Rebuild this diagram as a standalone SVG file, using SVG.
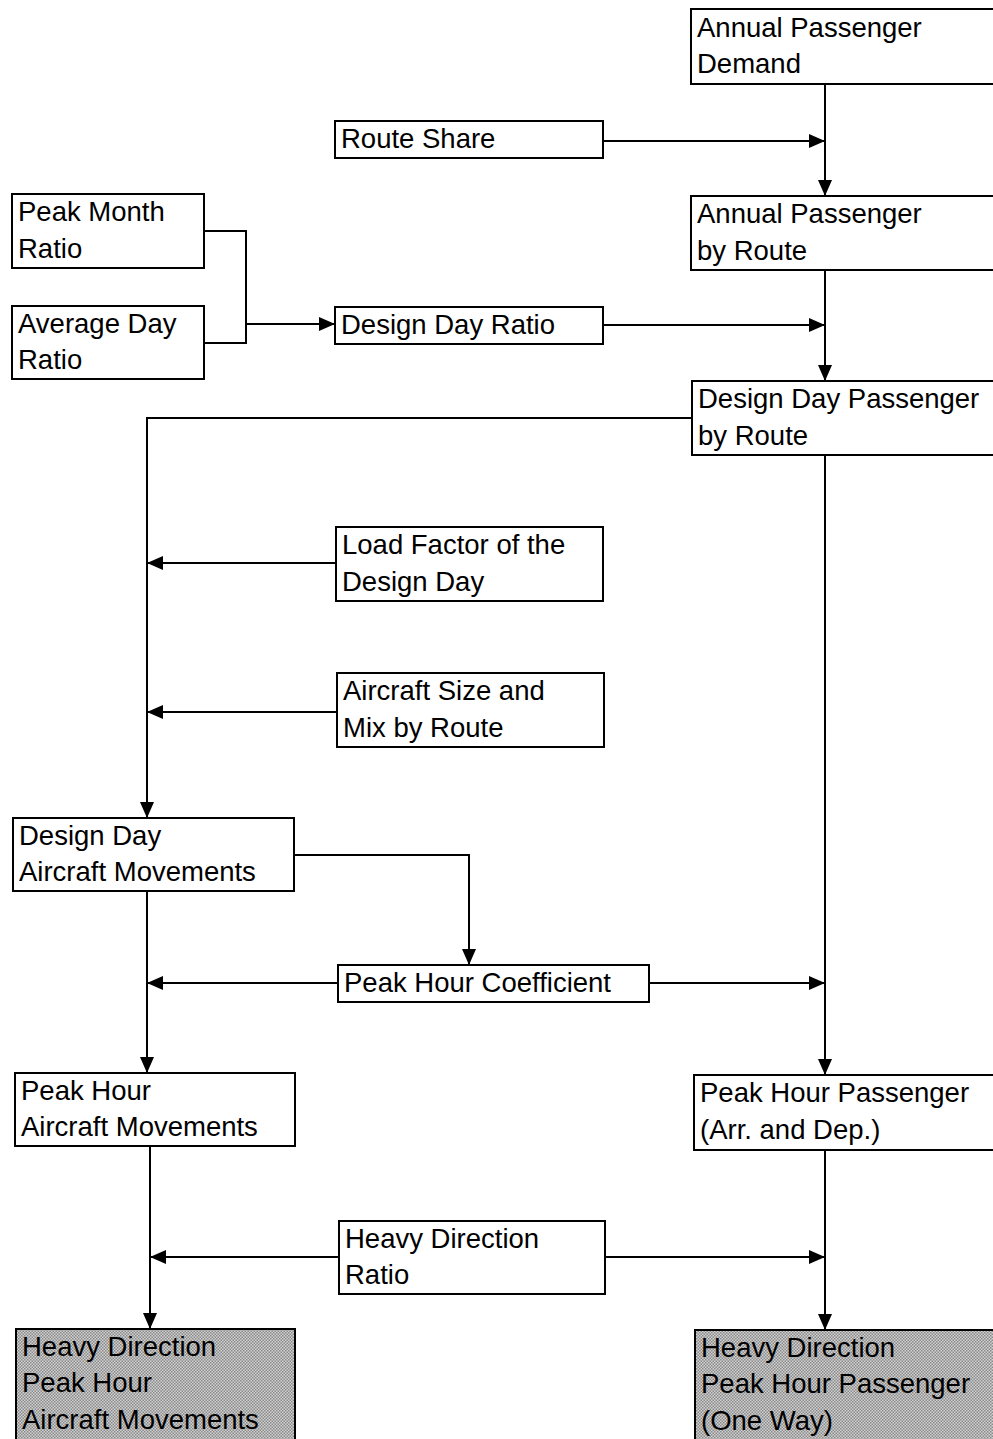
<svg xmlns="http://www.w3.org/2000/svg" width="993" height="1439" viewBox="0 0 993 1439">
<style>
.box{fill:#fff;stroke:#000;stroke-width:2}
.shade{fill:url(#dither);stroke:#000;stroke-width:2}
.t{font-family:"Liberation Sans",Arial,sans-serif;font-size:27.5px;fill:#000}
.c{fill:none;stroke:#000;stroke-width:2}
.a{fill:none;stroke:#000;stroke-width:2;marker-end:url(#ah)}
</style>
<defs>
<marker id="ah" markerUnits="userSpaceOnUse" markerWidth="16" markerHeight="16" viewBox="0 0 16 16" refX="16" refY="8" orient="auto">
<path d="M0,1 L16,8 L0,15 z" fill="#000"/>
</marker>
<pattern id="dither" width="3" height="3" patternUnits="userSpaceOnUse">
<rect width="3" height="3" fill="#d0d0d0"/>
<rect width="1.5" height="1.5" fill="#8a8a8a"/>
<rect x="1.5" y="1.5" width="1.5" height="1.5" fill="#8a8a8a"/>
</pattern>
</defs>
<rect width="993" height="1439" fill="#fff"/>

<g id="connectors">
<line class="a" x1="825" y1="84" x2="825" y2="196"/>
<line class="a" x1="603" y1="141" x2="825" y2="141"/>
<polyline class="c" points="204,231 246,231 246,343 204,343"/>
<line class="a" x1="246" y1="324" x2="335" y2="324"/>
<line class="a" x1="603" y1="325" x2="825" y2="325"/>
<line class="a" x1="825" y1="270" x2="825" y2="381"/>
<polyline class="a" points="692,418 147,418 147,818"/>
<line class="a" x1="336" y1="563" x2="147" y2="563"/>
<line class="a" x1="337" y1="712" x2="147" y2="712"/>
<polyline class="a" points="294,855 469,855 469,965"/>
<line class="a" x1="338" y1="983" x2="147" y2="983"/>
<line class="a" x1="649" y1="983" x2="825" y2="983"/>
<line class="a" x1="147" y1="891" x2="147" y2="1073"/>
<line class="a" x1="825" y1="455" x2="825" y2="1075"/>
<line class="a" x1="339" y1="1257" x2="150" y2="1257"/>
<line class="a" x1="605" y1="1257" x2="825" y2="1257"/>
<line class="a" x1="150" y1="1146" x2="150" y2="1329"/>
<line class="a" x1="825" y1="1150" x2="825" y2="1330"/>
</g>

<g id="annual-passenger-demand">
<rect class="box" x="691" y="9" width="320" height="75"/>
<text class="t" x="697" y="37">Annual Passenger</text>
<text class="t" x="697" y="73">Demand</text>
</g>
<g id="route-share">
<rect class="box" x="335" y="121" width="268" height="37"/>
<text class="t" x="341" y="148">Route Share</text>
</g>
<g id="annual-passenger-by-route">
<rect class="box" x="691" y="196" width="320" height="74"/>
<text class="t" x="697" y="223">Annual Passenger</text>
<text class="t" x="697" y="260">by Route</text>
</g>
<g id="peak-month-ratio">
<rect class="box" x="12" y="194" width="192" height="74"/>
<text class="t" x="18" y="221">Peak Month</text>
<text class="t" x="18" y="258">Ratio</text>
</g>
<g id="average-day-ratio">
<rect class="box" x="12" y="306" width="192" height="73"/>
<text class="t" x="18" y="333">Average Day</text>
<text class="t" x="18" y="369">Ratio</text>
</g>
<g id="design-day-ratio">
<rect class="box" x="335" y="307" width="268" height="37"/>
<text class="t" x="341" y="334">Design Day Ratio</text>
</g>
<g id="design-day-passenger-by-route">
<rect class="box" x="692" y="381" width="320" height="74"/>
<text class="t" x="698" y="408">Design Day Passenger</text>
<text class="t" x="698" y="445">by Route</text>
</g>
<g id="load-factor">
<rect class="box" x="336" y="527" width="267" height="74"/>
<text class="t" x="342" y="554">Load Factor of the</text>
<text class="t" x="342" y="591">Design Day</text>
</g>
<g id="aircraft-size-mix">
<rect class="box" x="337" y="673" width="267" height="74"/>
<text class="t" x="343" y="700">Aircraft Size and</text>
<text class="t" x="343" y="737">Mix by Route</text>
</g>
<g id="design-day-aircraft-movements">
<rect class="box" x="13" y="818" width="281" height="73"/>
<text class="t" x="19" y="845">Design Day</text>
<text class="t" x="19" y="881">Aircraft Movements</text>
</g>
<g id="peak-hour-coefficient">
<rect class="box" x="338" y="965" width="311" height="37"/>
<text class="t" x="344" y="992">Peak Hour Coefficient</text>
</g>
<g id="peak-hour-aircraft-movements">
<rect class="box" x="15" y="1073" width="280" height="73"/>
<text class="t" x="21" y="1100">Peak Hour</text>
<text class="t" x="21" y="1136">Aircraft Movements</text>
</g>
<g id="peak-hour-passenger">
<rect class="box" x="694" y="1075" width="320" height="75"/>
<text class="t" x="700" y="1102">Peak Hour Passenger</text>
<text class="t" x="700" y="1139">(Arr. and Dep.)</text>
</g>
<g id="heavy-direction-ratio">
<rect class="box" x="339" y="1221" width="266" height="73"/>
<text class="t" x="345" y="1248">Heavy Direction</text>
<text class="t" x="345" y="1284">Ratio</text>
</g>
<g id="hd-peak-hour-aircraft-movements">
<rect class="shade" x="16" y="1329" width="279" height="120"/>
<text class="t" x="22" y="1356">Heavy Direction</text>
<text class="t" x="22" y="1392">Peak Hour</text>
<text class="t" x="22" y="1429">Aircraft Movements</text>
</g>
<g id="hd-peak-hour-passenger">
<rect class="shade" x="695" y="1330" width="320" height="120"/>
<text class="t" x="701" y="1357">Heavy Direction</text>
<text class="t" x="701" y="1393">Peak Hour Passenger</text>
<text class="t" x="701" y="1430">(One Way)</text>
</g>
</svg>
